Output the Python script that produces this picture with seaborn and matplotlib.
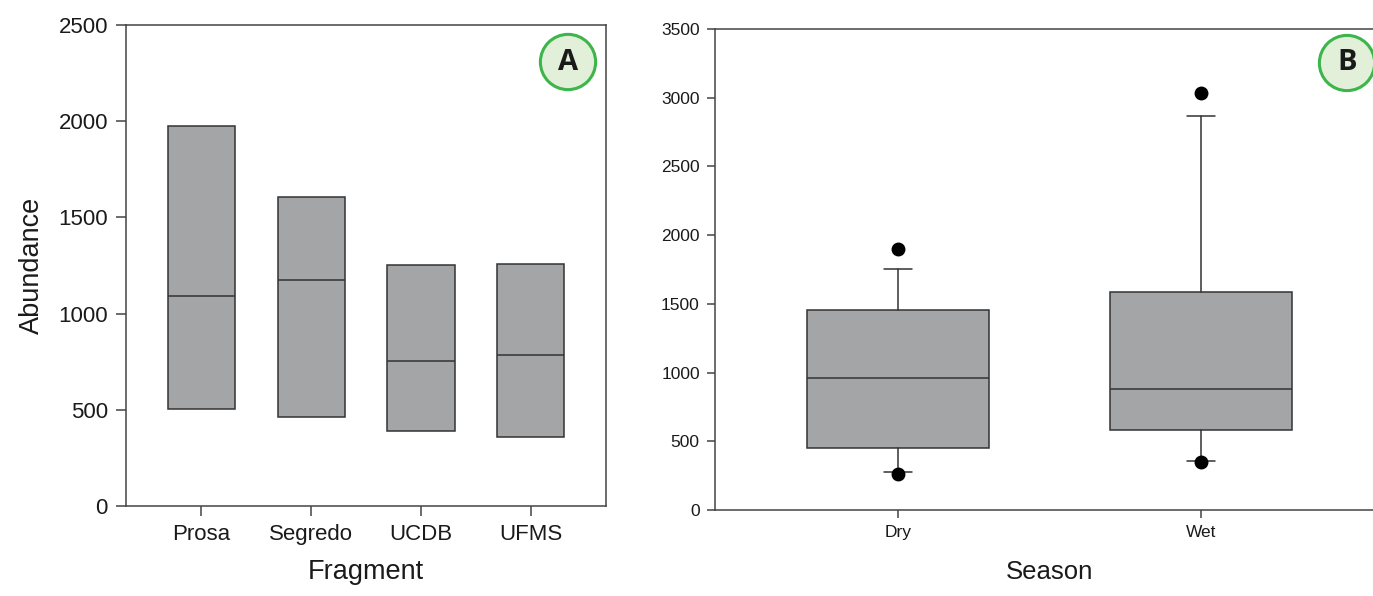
import matplotlib
matplotlib.use("Agg")
import matplotlib.pyplot as plt
import seaborn as sns

# Panel A - abundance by fragment (boxes only, no whiskers)
fragments = ["Prosa", "Segredo", "UCDB", "UFMS"]
frag_q1 = [505, 465, 390, 360]
frag_med = [1090, 1175, 755, 785]
frag_q3 = [1975, 1605, 1255, 1260]

# Panel B - abundance by season
seasons = ["Dry", "Wet"]
season_q1 = [451, 582]
season_med = [961, 881]
season_q3 = [1456, 1587]
season_whislo = [277, 357]
season_whishi = [1754, 2868]
season_fliers = [[262, 1900], [349, 3035]]

sns.set_theme(style="ticks")
plt.rcParams["font.family"] = ["Liberation Sans", "DejaVu Sans"]
plt.rcParams["text.color"] = "#1a1a1a"
plt.rcParams["axes.labelcolor"] = "#1a1a1a"
plt.rcParams["xtick.labelcolor"] = "#1a1a1a"
plt.rcParams["ytick.labelcolor"] = "#1a1a1a"

BOX_FILL = "#a4a5a7"
EDGE = "#333333"
SPINE = "#444444"

fig = plt.figure(figsize=(13.73, 5.96), dpi=100)
ax_a = fig.add_axes([0.0918, 0.151, 0.3496, 0.807])
ax_b = fig.add_axes([0.5208, 0.1443, 0.4872, 0.807])

box_kw = dict(
    patch_artist=True,
    boxprops=dict(facecolor=BOX_FILL, edgecolor=EDGE, linewidth=1.1),
    medianprops=dict(color=EDGE, linewidth=1.1),
    whiskerprops=dict(color=EDGE, linewidth=1.1),
    capprops=dict(color=EDGE, linewidth=1.1),
    manage_ticks=False,
)

# --- Panel A ---
stats_a = [
    dict(q1=q1, med=m, q3=q3, whislo=q1, whishi=q3, fliers=[], label=lab)
    for lab, q1, m, q3 in zip(fragments, frag_q1, frag_med, frag_q3)
]
ax_a.bxp(stats_a, positions=range(len(fragments)), widths=0.61,
         showcaps=False, showfliers=False, **box_kw)
ax_a.set_xlim(-0.684, len(fragments) - 1 + 0.684)
ax_a.set_ylim(0, 2500)
ax_a.set_yticks(range(0, 2501, 500))
ax_a.set_xticks(range(len(fragments)))
ax_a.set_xticklabels(fragments)
ax_a.tick_params(labelsize=16, length=7, width=1.1, color=SPINE, pad=6)
ax_a.set_xlabel("Fragment", fontsize=19.5, labelpad=10)
ax_a.set_ylabel("Abundance", fontsize=19.5, labelpad=10)

# --- Panel B ---
stats_b = [
    dict(q1=q1, med=m, q3=q3, whislo=lo, whishi=hi, fliers=fl, label=lab)
    for lab, q1, m, q3, lo, hi, fl in zip(seasons, season_q1, season_med, season_q3,
                                          season_whislo, season_whishi, season_fliers)
]
ax_b.bxp(stats_b, positions=range(len(seasons)), widths=0.6, capwidths=0.095,
         flierprops=dict(marker="o", markerfacecolor="black", markeredgecolor="black",
                         markersize=9),
         **box_kw)
ax_b.set_xlim(-0.604, len(seasons) - 1 + 0.604)
ax_b.set_ylim(0, 3500)
ax_b.set_yticks(range(0, 3501, 500))
ax_b.set_xticks(range(len(seasons)))
ax_b.set_xticklabels(seasons)
ax_b.tick_params(labelsize=12.5, length=6, width=1.1, color=SPINE, pad=5)
ax_b.set_xlabel("Season", fontsize=18.5, labelpad=14)

for ax in (ax_a, ax_b):
    for s in ax.spines.values():
        s.set_color(SPINE)
        s.set_linewidth(1.1)

# panel badges
badge = dict(boxstyle="circle,pad=0.45", facecolor="#e2efd9", edgecolor="#3cb54a", linewidth=2.2)
fig.text(568 / 1373, 1 - 62 / 596, "A", fontsize=21, fontweight="bold", family="Open Sans",
         ha="center", va="center", color="#1a1a1a", bbox=badge)
fig.text(1347 / 1373, 1 - 63 / 596, "B", fontsize=21, fontweight="bold", family="Open Sans",
         ha="center", va="center", color="#1a1a1a", bbox=badge)

plt.savefig("out.png", dpi=100)
plt.close(fig)
